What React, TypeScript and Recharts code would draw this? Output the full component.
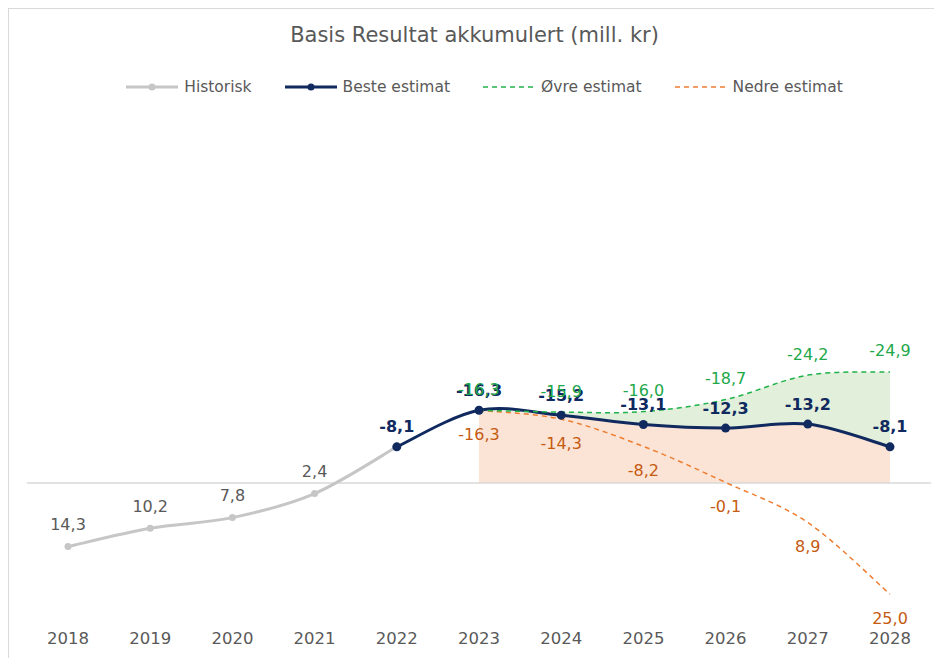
import React from "react";
import {
  ComposedChart,
  Line,
  Area,
  XAxis,
  YAxis,
  ReferenceLine,
} from "recharts";

const years = ["2018", "2019", "2020", "2021", "2022", "2023", "2024", "2025", "2026", "2027", "2028"];
const historisk = [14.3, 10.2, 7.8, 2.4, -8.1, null, null, null, null, null, null];
const beste = [null, null, null, null, -8.1, -16.3, -15.2, -13.1, -12.3, -13.2, -8.1];
const ovre = [null, null, null, null, null, -16.3, -15.9, -16.0, -18.7, -24.2, -24.9];
const nedre = [null, null, null, null, null, -16.3, -14.3, -8.2, -0.1, 8.9, 25.0];

const NAVY = "#10295f";

const legendItems = [
  { name: "Historisk", color: "#c6c6c6", dashed: false, dot: true },
  { name: "Beste estimat", color: NAVY, dashed: false, dot: true },
  { name: "Øvre estimat", color: "#1fb24a", dashed: true, dot: false },
  { name: "Nedre estimat", color: "#ed7d31", dashed: true, dot: false },
];

const data = years.map((year, i) => ({
  year,
  historisk: historisk[i],
  beste: beste[i],
  ovre: ovre[i],
  nedre: nedre[i],
  opp: ovre[i] == null ? null : [beste[i], ovre[i]],
  ned: nedre[i] == null ? null : [0, beste[i]],
}));

const FONT = "'DejaVu Sans', sans-serif";

// excel-like smoothing (catmull-rom through the points)
function smooth(context: any) {
  let pts: number[][] = [];
  let flag = NaN;
  return {
    areaStart() {
      flag = 0;
    },
    areaEnd() {
      flag = NaN;
    },
    lineStart() {
      pts = [];
    },
    point(x: number, y: number) {
      pts.push([+x, +y]);
    },
    lineEnd() {
      const n = pts.length;
      if (n) {
        if (flag) context.lineTo(pts[0][0], pts[0][1]);
        else context.moveTo(pts[0][0], pts[0][1]);
        for (let i = 0; i < n - 1; i++) {
          const p0 = pts[i - 1] || pts[i];
          const p1 = pts[i];
          const p2 = pts[i + 1];
          const p3 = pts[i + 2] || pts[i + 1];
          context.bezierCurveTo(
            p1[0] + (p2[0] - p0[0]) / 6,
            p1[1] + (p2[1] - p0[1]) / 6,
            p2[0] - (p3[0] - p1[0]) / 6,
            p2[1] - (p3[1] - p1[1]) / 6,
            p2[0],
            p2[1]
          );
        }
      }
      if (flag || (flag !== 0 && n === 1)) context.closePath();
      flag = 1 - flag;
    },
  };
}

const fmt = (v: number) => v.toFixed(1).replace(".", ",");

function makeLabel(color: string, dy: number, weight = 400, skip?: (i: number) => boolean) {
  return (props: any) => {
    const { value, index } = props;
    const x = props.x ?? props.viewBox?.x;
    const y = props.y ?? props.viewBox?.y;
    if (value == null || x == null || y == null || (skip && skip(index))) return null;
    return (
      <text
        key={`${color}-${index}`}
        x={x}
        y={y + dy}
        textAnchor="middle"
        dominantBaseline="central"
        fill={color}
        fontSize={16}
        fontWeight={weight}
        fontFamily={FONT}
      >
        {fmt(Number(value))}
      </text>
    );
  };
}

function LegendRow() {
  return (
    <div
      style={{
        position: "absolute",
        top: 68,
        left: 26,
        right: 0,
        display: "flex",
        justifyContent: "center",
        gap: 33,
        fontSize: 15.5,
        lineHeight: "20px",
        color: "#595959",
      }}
    >
      {legendItems.map((it) => (
        <div key={it.name} style={{ display: "flex", alignItems: "center" }}>
          <svg width={52} height={12} style={{ marginRight: 6 }}>
            <line
              x1={0}
              x2={52}
              y1={6}
              y2={6}
              stroke={it.color}
              strokeWidth={it.dashed ? 1.5 : 3}
              strokeDasharray={it.dashed ? "5 4" : undefined}
            />
            {it.dot && <circle cx={26} cy={6} r={3.5} fill={it.color} />}
          </svg>
          <span>{it.name}</span>
        </div>
      ))}
    </div>
  );
}

export default function App() {
  return (
    <div
      style={{
        position: "relative",
        width: 926,
        height: 650,
        boxSizing: "border-box",
        borderLeft: "1px solid #d9d9d9",
        borderTop: "1px solid #d9d9d9",
        background: "#fff",
        fontFamily: FONT,
      }}
    >
      <div
        style={{
          position: "absolute",
          top: 13,
          left: 6,
          right: 0,
          textAlign: "center",
          fontSize: 21,
          lineHeight: "26px",
          color: "#595959",
        }}
      >
        Basis Resultat akkumulert (mill. kr)
      </div>
      <LegendRow />
      <ComposedChart
        width={925}
        height={649}
        data={data}
        margin={{ top: 318, right: 3, bottom: 11.5, left: 18 }}
      >
        <XAxis
          dataKey="year"
          axisLine={false}
          tickLine={false}
          interval={0}
          tickMargin={10}
          padding={{ left: 41, right: 41 }}
          tick={{ fill: "#595959", fontSize: 16.5, fontFamily: FONT }}
        />
        <XAxis xAxisId="full" type="number" domain={[0, 1]} hide />
        <YAxis hide reversed domain={[-35, 30]} />
        <Area
          dataKey="opp"
          type={smooth as any}
          stroke="none"
          fill="#e2efda"
          fillOpacity={1}
          isAnimationActive={false}
        />
        <Area
          dataKey="ned"
          type={smooth as any}
          stroke="none"
          fill="#fbe4d5"
          fillOpacity={1}
          isAnimationActive={false}
        />
        <ReferenceLine xAxisId="full" y={0} stroke="#d9d9d9" strokeWidth={1.5} />
        <Line
          dataKey="nedre"
          type={smooth as any}
          stroke="#ed7d31"
          strokeWidth={1.5}
          strokeDasharray="5 4"
          dot={false}
          label={makeLabel("#c55a11", 24)}
          isAnimationActive={false}
        />
        <Line
          dataKey="historisk"
          type={smooth as any}
          stroke="#c6c6c6"
          strokeWidth={3}
          dot={{ r: 3.5, fill: "#c6c6c6", stroke: "none" }}
          label={makeLabel("#595959", -22, 400, (i) => beste[i] != null)}
          isAnimationActive={false}
        />
        <Line
          dataKey="beste"
          type={smooth as any}
          stroke={NAVY}
          strokeWidth={3}
          dot={{ r: 4.5, fill: NAVY, stroke: "none" }}
          label={makeLabel(NAVY, -20, 600)}
          isAnimationActive={false}
        />
        <Line
          dataKey="ovre"
          type={smooth as any}
          stroke="#1fb24a"
          strokeWidth={1.5}
          strokeDasharray="5 4"
          dot={false}
          label={makeLabel("#22a84a", -21)}
          isAnimationActive={false}
        />
      </ComposedChart>
    </div>
  );
}
